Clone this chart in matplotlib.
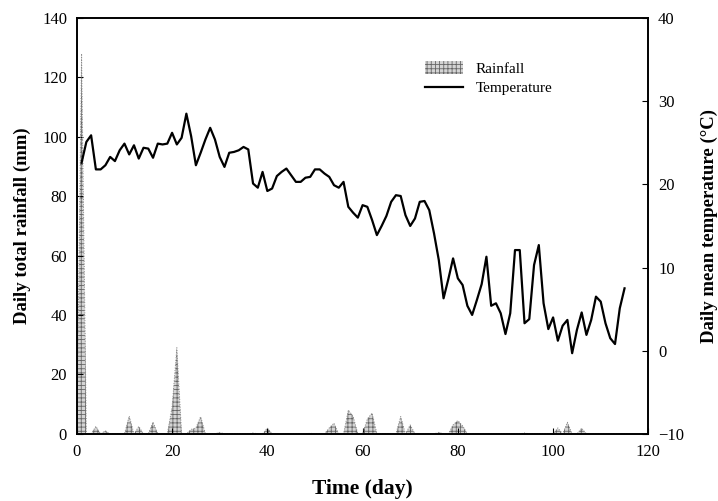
import numpy as np
import matplotlib
matplotlib.use('Agg')
import matplotlib.pyplot as plt

plt.rcParams['font.family'] = 'Liberation Serif'
plt.rcParams['hatch.linewidth'] = 0.6

# Daily mean temperature (deg C), days 1..115
days = np.arange(1, 116)
temperature = [
    22.6, 25.1, 25.9, 21.8, 21.8, 22.3, 23.3, 22.8, 24.1, 24.9,
    23.6, 24.7, 23.1, 24.4, 24.3, 23.2, 24.9, 24.8, 24.9, 26.2,
    24.8, 25.6, 28.5, 25.8, 22.3, 23.8, 25.4, 26.8, 25.4, 23.3,
    22.1, 23.8, 23.9, 24.1, 24.5, 24.2, 20.1, 19.6, 21.5, 19.2,
    19.5, 21.0, 21.5, 21.9, 21.1, 20.3, 20.3, 20.8, 20.9, 21.8,
    21.8, 21.3, 20.9, 19.9, 19.6, 20.3, 17.3, 16.6, 16.0, 17.5,
    17.3, 15.7, 13.9, 15.0, 16.2, 17.9, 18.7, 18.6, 16.3, 15.0,
    15.9, 17.9, 18.0, 16.9, 14.1, 10.9, 6.3, 8.6, 11.1, 8.7,
    7.9, 5.4, 4.3, 6.1, 8.0, 11.3, 5.4, 5.7, 4.5, 2.0,
    4.5, 12.1, 12.1, 3.3, 3.8, 10.3, 12.7, 5.7, 2.6, 4.0,
    1.2, 3.0, 3.7, -0.3, 2.5, 4.6, 1.9, 3.7, 6.5, 5.9,
    3.3, 1.5, 0.8, 5.1, 7.5,
]

# Daily total rainfall (mm); days not listed had no rain
rain_days = [1, 4, 6, 11, 13, 16, 20, 21, 24, 25, 26, 30, 37, 40, 49,
             53, 54, 57, 58, 61, 62, 68, 70, 76, 79, 80, 81, 94, 101, 103, 106]
rain_mm = [128, 2.5, 1, 6, 2.5, 4, 9, 29, 1.5, 2, 5.8, 0.5, 0.3, 2, 0.2,
           2, 3.6, 8, 6, 5, 7, 5.8, 3, 0.5, 3, 4.5, 2.7, 0.3, 2, 3.9, 1.9]

rain_x = np.arange(0, 117)
rainfall = np.zeros(len(rain_x))
for d, r in zip(rain_days, rain_mm):
    rainfall[d] = r

fig = plt.figure(figsize=(7.18, 5.01), dpi=100)
ax = fig.add_axes([0.107, 0.134, 0.796, 0.830])
ax2 = ax.twinx()

ax.fill_between(rain_x, 0, rainfall, facecolor='#d4d4d4', edgecolor='#666666',
                hatch='++++', linewidth=0, label='Rainfall')
ax.plot(rain_x, rainfall, color='#8a8a8a', lw=0.7, ls=':')

ax2.plot(days, temperature, color='black', lw=1.6, label='Temperature')

ax.set_xlim(0, 120)
ax.set_ylim(0, 140)
ax2.set_ylim(-10, 40)
ax.set_xticks(np.arange(0, 121, 20))
ax.set_yticks(np.arange(0, 141, 20))
ax2.set_yticks(np.arange(-10, 41, 10))

ax.tick_params(direction='in', length=4, labelsize=12, pad=7)
ax2.tick_params(direction='in', length=4, labelsize=12, pad=7)

ax.set_xlabel('Time (day)', fontsize=15.5, fontweight='bold', labelpad=14)
ax.set_ylabel('Daily total rainfall (mm)', fontsize=13.5, fontweight='bold', labelpad=8)
ax2.set_ylabel('Daily mean temperature (°C)', fontsize=13.5, fontweight='bold',
               rotation=90, labelpad=12)

for a in (ax, ax2):
    for s in a.spines.values():
        s.set_linewidth(1.2)

h1, l1 = ax.get_legend_handles_labels()
h2, l2 = ax2.get_legend_handles_labels()
ax2.legend([h1[0], h2[0]], [l1[0], l2[0]], loc='upper left',
           bbox_to_anchor=(0.585, 0.93), frameon=False, fontsize=11,
           handlelength=2.5, handleheight=0.9, labelspacing=0.35)

fig.savefig('out.png', dpi=100)
